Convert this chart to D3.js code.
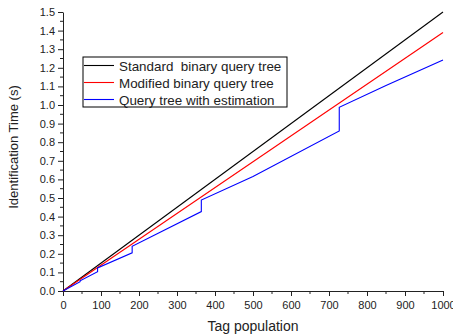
<!DOCTYPE html>
<html>
<head>
<meta charset="utf-8">
<script src="https://cdn.jsdelivr.net/npm/d3@7"></script>
<style>
  body { margin: 0; background: #fff; }
  text { font-family: "Liberation Sans", Arial, sans-serif; fill: #222; }
</style>
</head>
<body>
<div id="chart"></div>
<script>
// series values
var standardX = [0, 1000];
var standardY = [0, 1.5];
var modifiedX = [0, 1000];
var modifiedY = [0, 1.39];
var estimX = [0, 45, 45, 91, 91, 182, 182, 364, 364, 500, 727, 727, 850, 1000];
var estimY = [0, 0.05, 0.055, 0.104, 0.124, 0.205, 0.24, 0.427, 0.489, 0.615, 0.86, 0.988, 1.105, 1.242];

var legendNames = ["Standard  binary query tree", "Modified binary query tree", "Query tree with estimation"];
var colors = ["#000000", "#ff0000", "#0000ff"];
var xTicks = [0, 100, 200, 300, 400, 500, 600, 700, 800, 900, 1000];
var yTicks = [0, 0.1, 0.2, 0.3, 0.4, 0.5, 0.6, 0.7, 0.8, 0.9, 1.0, 1.1, 1.2, 1.3, 1.4, 1.5];

var W = 453, H = 335;
var margin = {top: 12, right: 10, bottom: 44, left: 63};

var svg = d3.select("#chart").append("svg")
  .attr("width", W).attr("height", H);

var x = d3.scaleLinear().domain([0, 1000]).range([margin.left, 443]);
var y = d3.scaleLinear().domain([0, 1.5]).range([291, margin.top]);

// minor ticks
var xMinor = d3.range(50, 1000, 100);
var yMinor = d3.range(0.05, 1.5, 0.1);

var gx = svg.append("g").attr("transform", "translate(0,291)");
gx.call(d3.axisBottom(x).tickValues(xTicks).tickFormat(d3.format("d"))
  .tickSize(5).tickPadding(5).tickSizeOuter(0));
gx.selectAll("line.minor").data(xMinor).enter().append("line")
  .attr("x1", d => x(d)).attr("x2", d => x(d)).attr("y1", 0).attr("y2", 3)
  .attr("stroke", "#222");

var gy = svg.append("g").attr("transform", "translate(" + margin.left + ",0)");
gy.call(d3.axisLeft(y).tickValues(yTicks).tickFormat(d3.format(".1f")).tickSize(5).tickSizeOuter(0));
gy.selectAll("line.minor").data(yMinor).enter().append("line")
  .attr("x1", 0).attr("x2", -3).attr("y1", d => y(d)).attr("y2", d => y(d))
  .attr("stroke", "#222");

svg.selectAll(".tick text").style("font-size", "11px").style("font-family", "Liberation Sans, Arial, sans-serif");
svg.selectAll(".domain, .tick line").attr("stroke", "#222");

// series
var series = [
  standardX.map((d, i) => [d, standardY[i]]),
  modifiedX.map((d, i) => [d, modifiedY[i]]),
  estimX.map((d, i) => [d, estimY[i]])
];

var line = d3.line().x(d => x(d[0])).y(d => y(d[1]));

series.forEach(function(s, i) {
  svg.append("path")
    .datum(s)
    .attr("fill", "none")
    .attr("stroke", colors[i])
    .attr("stroke-width", 1.1)
    .attr("d", line);
});

// legend
var lg = svg.append("g").attr("transform", "translate(83,57)");
lg.append("rect").attr("width", 204).attr("height", 50)
  .attr("fill", "#fff").attr("stroke", "#000").attr("stroke-width", 1);
legendNames.forEach(function(n, i) {
  var yy = 8.5 + i * 17;
  lg.append("line").attr("x1", 1).attr("x2", 31).attr("y1", yy).attr("y2", yy)
    .attr("stroke", colors[i]).attr("stroke-width", 1.1);
  lg.append("text").attr("x", 36).attr("y", yy + 5)
    .style("font-size", "13.4px").style("white-space", "pre")
    .attr("xml:space", "preserve")
    .text(n);
});

// axis titles
svg.append("text")
  .attr("x", x(500)).attr("y", 331)
  .attr("text-anchor", "middle")
  .style("font-size", "14px")
  .text("Tag population");

svg.append("text")
  .attr("transform", "translate(18,147) rotate(-90)")
  .attr("text-anchor", "middle")
  .style("font-size", "13px")
  .text("Identification Time (s)");
</script>
</body>
</html>
